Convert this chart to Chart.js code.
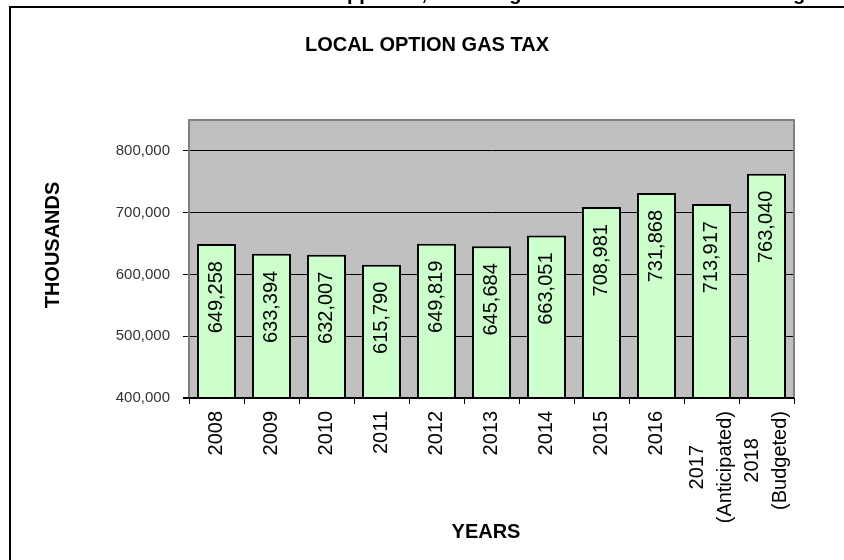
<!DOCTYPE html>
<html>
<head>
<meta charset="utf-8">
<script src="https://cdn.jsdelivr.net/npm/chart.js@4.4.1/dist/chart.umd.min.js"></script>
<style>
  html, body { margin: 0; padding: 0; background: #fff; }
  #wrap { width: 844px; height: 560px; position: relative; }
</style>
</head>
<body>
<div id="wrap"><canvas id="gas-tax-chart" width="844" height="560"></canvas></div>
<script>
// chart data
const years = [['2008'], ['2009'], ['2010'], ['2011'], ['2012'], ['2013'], ['2014'],
  ['2015'], ['2016'], ['2017', '(Anticipated)'], ['2018', '(Budgeted)']];
const revenue = [649258, 633394, 632007, 615790, 649819, 645684, 663051, 708981, 731868, 713917, 763040];
const yTicks = [400000, 500000, 600000, 700000, 800000];

const chartTitle = 'LOCAL OPTION GAS TAX';
const yTitle = 'THOUSANDS';
const xTitle = 'YEARS';
// page heading above the chart box, mostly cut off by the crop
const pageHeading = 'Roads Supported, in a Long Term from Local Tax Funding';

const FONT = '"Liberation Sans", Arial, sans-serif';
const fmt = v => v.toLocaleString('en-US');

// draws the frame, labels and titles the way the spreadsheet chart has them
const decor = {
  id: 'decor',
  beforeDraw(chart) {
    const { ctx, chartArea: a } = chart;
    ctx.save();
    ctx.fillStyle = '#fff';
    ctx.fillRect(0, 0, chart.width, chart.height);
    ctx.fillStyle = '#c0c0c0';
    ctx.fillRect(a.left, a.top, a.right - a.left, a.bottom - a.top);
    ctx.restore();
  },
  afterDatasetsDraw(chart) {
    const { ctx, chartArea: a } = chart;
    ctx.save();
    // plot frame
    ctx.strokeStyle = '#808080';
    ctx.lineWidth = 2;
    ctx.beginPath();
    ctx.moveTo(a.left, a.bottom);
    ctx.lineTo(a.left, a.top);
    ctx.lineTo(a.right, a.top);
    ctx.lineTo(a.right, a.bottom);
    ctx.stroke();
    ctx.strokeStyle = '#000';
    ctx.beginPath();
    ctx.moveTo(a.left - 6, a.bottom);
    ctx.lineTo(a.right, a.bottom);
    ctx.stroke();

    // value labels inside the bars
    ctx.fillStyle = '#000';
    ctx.font = '20px ' + FONT;
    ctx.textAlign = 'right';
    ctx.textBaseline = 'middle';
    chart.getDatasetMeta(0).data.forEach((bar, i) => {
      ctx.save();
      ctx.translate(bar.x, bar.y + 17);
      ctx.rotate(-Math.PI / 2);
      ctx.fillText(fmt(revenue[i]), 0, 0);
      ctx.restore();
    });

    // category labels, rotated, lines centred on each other
    const xs = chart.scales.x;
    const top = a.bottom + 13;
    ctx.textAlign = 'center';
    years.forEach((lines, i) => {
      const w = Math.max(...lines.map(l => ctx.measureText(l).width));
      ctx.save();
      ctx.translate(xs.getPixelForValue(i), top);
      ctx.rotate(-Math.PI / 2);
      lines.forEach((l, j) => {
        ctx.fillText(l, -w / 2, (j - (lines.length - 1) / 2) * 28);
      });
      ctx.restore();
    });
    ctx.restore();
  },
  afterDraw(chart) {
    const { ctx } = chart;
    ctx.save();
    // outer box
    ctx.strokeStyle = '#000';
    ctx.lineWidth = 2;
    ctx.strokeRect(10, 7, 900, 700);

    ctx.fillStyle = '#000';
    ctx.font = 'bold 20px ' + FONT;
    ctx.textAlign = 'center';
    ctx.textBaseline = 'alphabetic';
    ctx.fillText(pageHeading, 530, 0);

    ctx.textBaseline = 'middle';
    ctx.fillText(chartTitle, 427, 45);
    ctx.fillText(xTitle, 486, 532);
    ctx.save();
    ctx.translate(53, 245);
    ctx.rotate(-Math.PI / 2);
    ctx.fillText(yTitle, 0, 0);
    ctx.restore();
    ctx.restore();
  }
};

new Chart(document.getElementById('gas-tax-chart'), {
  type: 'bar',
  data: {
    labels: years,
    datasets: [{
      data: revenue,
      backgroundColor: '#ccffcc',
      borderColor: '#000',
      borderWidth: 2,
      borderSkipped: false,
      barPercentage: 0.71,
      categoryPercentage: 1
    }]
  },
  options: {
    responsive: false,
    animation: false,
    devicePixelRatio: 1,
    layout: { padding: { left: 0, top: 120, right: 50, bottom: 0 } },
    plugins: { legend: { display: false }, tooltip: { enabled: false }, title: { display: false } },
    scales: {
      x: {
        offset: true,
        border: { display: false },
        grid: { offset: true, drawOnChartArea: false, drawTicks: true, tickLength: 6, color: '#000', lineWidth: 1 },
        ticks: { display: false },
        afterFit: s => { s.height = 162; }
      },
      y: {
        min: 400000,
        max: 850000,
        border: { display: false },
        grid: { color: '#000', lineWidth: 1, tickLength: 6 },
        afterBuildTicks: s => { s.ticks = yTicks.map(v => ({ value: v })); },
        ticks: {
          padding: 13,
          color: '#333',
          font: { family: FONT, size: 15 },
          callback: v => fmt(v)
        },
        afterFit: s => { s.width = 189; }
      }
    }
  },
  plugins: [decor]
});
</script>
</body>
</html>
